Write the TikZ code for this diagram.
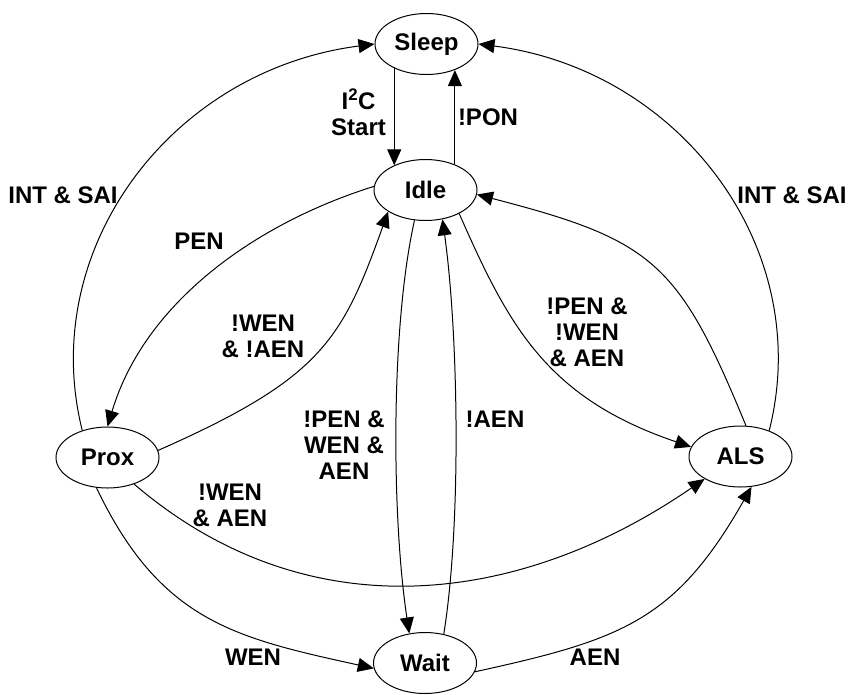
\documentclass[tikz,border=0pt]{standalone}
\usepackage{fontspec}
\setmainfont{Liberation Sans}
\usetikzlibrary{shapes.geometric,arrows.meta}
\begin{document}
\begin{tikzpicture}[x=1pt,y=-1pt,
  state/.style={ellipse,draw,line width=1pt,minimum width=103pt,minimum height=61pt,inner sep=0pt,font=\fontsize{24}{26}\selectfont\bfseries},
  lbl/.style={align=center,inner sep=0pt,font=\fontsize{24}{26}\selectfont\bfseries},
  arr/.style={line width=1pt,-{Triangle[length=16pt,width=14pt]}}]
\useasboundingbox (0,0) rectangle (848,694);
\node[state] (sleep) at (426.5,44) {Sleep};
\node[state] (idle) at (425.5,190) {Idle};
\node[state] (prox) at (107.5,457.5) {Prox};
\node[state] (als) at (740.5,456.5) {ALS};
\node[state] (wait) at (425,663) {Wait};

\node[lbl] (l1) at (358.5,112) {I\textsuperscript{2}C\\Start};
\node[lbl] (l2) at (488,117) {!PON};
\node[lbl] (l3) at (63,195) {INT \& SAI};
\node[lbl] (l4) at (792,195) {INT \& SAI};
\node[lbl] (l5) at (199,241) {PEN};
\node[lbl] (l6) at (263,336) {!WEN\\\& !AEN};
\node[lbl] (l7) at (587,332) {!PEN \&\\!WEN\\\& AEN};
\node[lbl] (l8) at (344,445) {!PEN \&\\WEN \&\\AEN};
\node[lbl] (l9) at (495,419) {!AEN};
\node[lbl] (l10) at (230,505) {!WEN\\\& AEN};
\node[lbl] (l11) at (253,657) {WEN};
\node[lbl] (l12) at (595,657) {AEN};

\draw[arr] (sleep.217) -- (sleep.217 |- idle.142);
\draw[arr] (idle.41) -- (idle.41 |- sleep.-43);
\draw[arr] (prox.133) .. controls (36.7,248) and (172,70) .. (sleep.west);
\draw[arr] (als.42) .. controls (815.3,248) and (680.2,70) .. (sleep.east);
\draw[arr] (idle.176) .. controls (254.2,223.9) and (144.4,303.2) .. (prox.north);
\draw[arr] (prox.8) .. controls (322,378) and (342,340) .. (idle.210);
\draw[arr] (idle.250) .. controls (390,330) and (392,520) .. (wait.118);
\draw[arr] (wait.57) .. controls (462,520) and (458,330) .. (idle.300);
\draw[arr] (idle.325) .. controls (509,327) and (547,398) .. (als.169);
\draw[arr] (als.80) .. controls (678.4,261.2) and (652.3,240) .. (idle.355);
\draw[arr] (prox.315) .. controls (308.2,633) and (520.1,605.7) .. (als.212);
\draw[arr] (prox.250) .. controls (160.3,621.4) and (235,637.9) .. (wait.186);
\draw[arr] (wait.350) .. controls (621.3,639.7) and (675.3,621) .. (als.290);
\end{tikzpicture}
\end{document}
